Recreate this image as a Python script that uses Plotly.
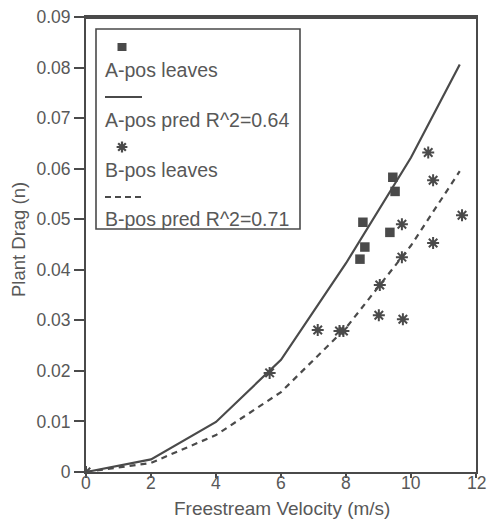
import plotly.graph_objects as go

# ---- data ----
a_leaves_x = [8.52, 9.44, 9.51, 9.35, 8.58, 8.43]
a_leaves_y = [0.0494, 0.0583, 0.0555, 0.0474, 0.0445, 0.0421]

b_leaves_x = [0.0, 5.65, 7.13, 7.80, 7.92, 9.01, 9.04, 9.75, 9.72, 9.72, 10.68, 10.68, 10.53, 11.57]
b_leaves_y = [0.0, 0.0196, 0.0281, 0.0279, 0.0279, 0.0310, 0.0370, 0.0302, 0.0425, 0.0490, 0.0453, 0.0577, 0.0632, 0.0508]

pred_x = [0, 2, 4, 6, 8, 10, 11.5]
a_pred_y = [0, 0.0025, 0.0099, 0.0222, 0.0413, 0.0622, 0.0806]
b_pred_y = [0, 0.0018, 0.0073, 0.0158, 0.0285, 0.0448, 0.0595]

x_ticks = [0, 2, 4, 6, 8, 10, 12]
x_tick_text = ["0", "2", "4", "6", "8", "10", "12"]
y_ticks = [0, 0.01, 0.02, 0.03, 0.04, 0.05, 0.06, 0.07, 0.08, 0.09]
y_tick_text = ["0", "0.01", "0.02", "0.03", "0.04", "0.05", "0.06", "0.07", "0.08", "0.09"]

legend_labels = ["A-pos leaves", "A-pos pred R^2=0.64", "B-pos leaves", "B-pos pred R^2=0.71"]
x_title = "Freestream Velocity (m/s)"
y_title = "Plant Drag (n)"

INK = "#4a4a4a"
TXT = "#585858"
FONT = "Liberation Sans, Arial, sans-serif"

W, H = 488, 522
# plot area in page pixels
L, R_, T, B = 86, 476, 17, 472
X_MAX, Y_MAX = 12, 0.09

def px(xp):
    return (xp - L) / (R_ - L)
def py(yp):
    return (B - yp) / (B - T)

fig = go.Figure()
fig.add_trace(go.Scatter(x=pred_x, y=a_pred_y, mode="lines",
                         line=dict(color=INK, width=2.2), showlegend=False))
fig.add_trace(go.Scatter(x=pred_x, y=b_pred_y, mode="lines",
                         line=dict(color=INK, width=2.2, dash="6px,5px"), showlegend=False))
fig.add_trace(go.Scatter(x=a_leaves_x, y=a_leaves_y, mode="markers",
                         marker=dict(symbol="square", size=9.5, color=INK), showlegend=False))
fig.add_trace(go.Scatter(x=b_leaves_x, y=b_leaves_y, mode="markers",
                         marker=dict(symbol="asterisk-open", size=10, color=INK,
                                     line=dict(color=INK, width=2)), showlegend=False))

# ---- manual legend (symbol above text) ----
shapes = []
shapes.append(dict(type="rect", xref="paper", yref="paper",
                   x0=px(96), x1=px(300), y0=py(229), y1=py(29),
                   line=dict(color=INK, width=1.6), fillcolor="white", layer="below"))
shapes.append(dict(type="rect", xref="paper", yref="paper",
                   x0=px(117.5), x1=px(126.5), y0=py(51), y1=py(43),
                   line=dict(width=0), fillcolor=INK, layer="above"))
shapes.append(dict(type="line", xref="paper", yref="paper",
                   x0=px(105), x1=px(142), y0=py(97), y1=py(97),
                   line=dict(color=INK, width=2), layer="above"))
shapes.append(dict(type="line", xref="paper", yref="paper",
                   x0=px(105), x1=px(143), y0=py(197), y1=py(197),
                   line=dict(color=INK, width=2, dash="6px,4px"), layer="above"))
# top frame line (explicit band)
shapes.append(dict(type="rect", xref="paper", yref="paper", x0=px(85), x1=px(477),
                   y0=py(19), y1=py(15.5), line=dict(width=0), fillcolor=INK, layer="above"))

# legend asterisk sample (placed from legend pixel position)
fig.add_trace(go.Scatter(x=[X_MAX * px(122)], y=[Y_MAX * py(147)], mode="markers",
                         marker=dict(symbol="asterisk-open", size=9, color=INK,
                                     line=dict(color=INK, width=2.2)),
                         showlegend=False, hoverinfo="skip"))

text_y = [70, 120, 170, 219]
annotations = []
for lab, ty in zip(legend_labels, text_y):
    annotations.append(dict(text=lab, xref="paper", yref="paper", x=px(103), y=py(ty),
                            xanchor="left", yanchor="middle", showarrow=False,
                            font=dict(family=FONT, size=19.5, color=TXT)))
# x tick labels as text placed at the tick values
for tv, tt in zip(x_ticks, x_tick_text):
    annotations.append(dict(text=tt, xref="x", yref="paper", x=tv, y=py(483),
                            xanchor="center", yanchor="middle", showarrow=False,
                            font=dict(family=FONT, size=17.5, color=TXT)))
# axis titles
annotations.append(dict(text=x_title, xref="paper", yref="paper", x=px(282), y=py(509),
                        xanchor="center", yanchor="middle", showarrow=False,
                        font=dict(family=FONT, size=19, color=TXT)))
annotations.append(dict(text=y_title, xref="paper", yref="paper", x=px(18), y=py(240),
                        xanchor="center", yanchor="middle", showarrow=False, textangle=-90,
                        font=dict(family=FONT, size=18.5, color=TXT)))

fig.update_layout(
    width=W, height=H,
    margin=dict(l=L, r=W - R_, t=T, b=H - B),
    paper_bgcolor="white", plot_bgcolor="white",
    font=dict(family=FONT, size=18, color=TXT),
    shapes=shapes, annotations=annotations,
    xaxis=dict(range=[0, X_MAX], tickvals=x_ticks, showticklabels=False, ticks="outside",
               ticklen=4, tickwidth=1.5, tickcolor=INK, showline=True, linecolor=INK,
               linewidth=2, mirror=True, showgrid=False, zeroline=False, automargin=False),
    yaxis=dict(range=[0, Y_MAX], tickvals=y_ticks, ticktext=y_tick_text, ticks="outside",
               ticklen=10, tickwidth=1.5, tickcolor=INK, showline=True, linecolor=INK,
               linewidth=2, mirror=True, showgrid=False, zeroline=False, automargin=False,
               tickfont=dict(family=FONT, size=17.5, color=TXT)),
)

fig.write_html("out.html", config={"displayModeBar": False})

# remove default page margin so the figure sits exactly in the window
with open("out.html", "r", encoding="utf-8") as f:
    html = f.read()
html = html.replace("<head>", "<head><style>html,body{margin:0;padding:0;overflow:hidden;}</style>", 1)
with open("out.html", "w", encoding="utf-8") as f:
    f.write(html)
